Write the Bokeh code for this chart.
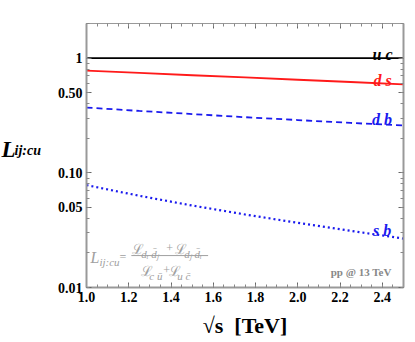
import numpy as np
from bokeh.plotting import figure
from bokeh.layouts import row
from bokeh.models import (FixedTicker, CustomJSTickFormatter, LogAxis, LinearAxis,
                          Label, Arrow)
from bokeh.embed import file_html
from bokeh.resources import INLINE

# ---- data ----
sqrt_s = [1.0, 1.25, 1.5, 1.75, 2.0, 2.25, 2.5]
L_uc = [1.0, 1.0, 1.0, 1.0, 1.0, 1.0, 1.0]
L_ds = [0.776, 0.742, 0.708, 0.677, 0.647, 0.618, 0.590]
L_db = [0.370, 0.346, 0.325, 0.305, 0.288, 0.272, 0.258]
L_sb = [0.078, 0.0630, 0.0518, 0.0433, 0.0366, 0.0312, 0.0267]

x_tick_vals = [1.0, 1.2, 1.4, 1.6, 1.8, 2.0, 2.2, 2.4]
x_tick_labels = ["1.0", "1.2", "1.4", "1.6", "1.8", "2.0", "2.2", "2.4"]
y_tick_vals = [0.01, 0.05, 0.1, 0.5, 1.0]
y_tick_labels = ["0.01", "0.05", "0.10", "0.50", "1"]

SERIF = "Liberation Serif"
GRAY = "#999999"
H = 340
LW = 46  # width of the strip that carries the y-axis title

# ---- strip on the left holding the y-axis title ----
lf = figure(width=LW, height=H, x_range=(0, LW), y_range=(H, 0),
            output_backend="svg", toolbar_location=None,
            min_border=0, min_border_left=0, min_border_right=0,
            min_border_top=0, min_border_bottom=0)
lf.axis.visible = False
lf.grid.visible = False
lf.outline_line_color = None
lf.add_layout(Label(x=1, y=162, text="L", text_font=SERIF,
                    text_font_style="bold italic", text_font_size="23px",
                    text_color="black", text_baseline="alphabetic"))
lf.add_layout(Label(x=14, y=164, text="ij:cu", text_font=SERIF,
                    text_font_style="bold italic", text_font_size="14px",
                    text_color="black", text_baseline="alphabetic"))

# ---- main plot ----
p = figure(width=413 - LW, height=H, x_range=(1.0, 2.5), y_range=(0.01, 2.0),
           y_axis_type="log", output_backend="svg", toolbar_location=None,
           min_border_left=86 - LW, min_border_right=10, min_border_top=23,
           min_border_bottom=52)
p.grid.visible = False
p.outline_line_color = None
p.background_fill_color = "white"
p.border_fill_color = "white"

x_minor = [round(v, 2) for v in np.arange(1.0, 2.5001, 0.05)]
y_minor = []
for dec in [0.01, 0.1, 1.0]:
    for k in range(1, 10):
        v = dec * k
        if v <= 2.0001:
            y_minor.append(v)

xt = FixedTicker(ticks=x_tick_vals, minor_ticks=x_minor)
yt = FixedTicker(ticks=y_tick_vals, minor_ticks=y_minor)
xf = CustomJSTickFormatter(args=dict(vals=x_tick_vals, labs=x_tick_labels), code="""
const i = vals.findIndex(v => Math.abs(v - tick) < 1e-6);
return i >= 0 ? labs[i] : "";
""")
yf = CustomJSTickFormatter(args=dict(vals=y_tick_vals, labs=y_tick_labels), code="""
const i = vals.findIndex(v => Math.abs(v - tick) < 1e-6 * v);
return i >= 0 ? labs[i] : "";
""")


def style_axis(ax, labels=True):
    ax.axis_line_color = GRAY
    ax.axis_line_width = 2
    ax.major_tick_line_color = "#666666"
    ax.minor_tick_line_color = "#888888"
    ax.major_tick_in = 5
    ax.major_tick_out = 0
    ax.minor_tick_in = 3
    ax.minor_tick_out = 0
    ax.major_label_text_font = SERIF
    ax.major_label_text_font_style = "bold"
    ax.major_label_text_font_size = "14px"
    ax.major_label_text_color = "black" if labels else None
    ax.major_label_standoff = 4 if labels else 0


p.xaxis.ticker = xt
p.xaxis.formatter = xf
p.yaxis.ticker = yt
p.yaxis.formatter = yf
style_axis(p.xaxis[0])
style_axis(p.yaxis[0])
p.xaxis.axis_label = "√s\u00a0\u00a0[TeV]"
p.xaxis.axis_label_text_font = SERIF
p.xaxis.axis_label_text_font_style = "bold"
p.xaxis.axis_label_text_font_size = "22px"
p.xaxis.axis_label_text_color = "black"
p.xaxis.axis_label_standoff = 8

top_ax = LinearAxis(ticker=xt, formatter=xf)
right_ax = LogAxis(ticker=yt, formatter=yf)
style_axis(top_ax, labels=False)
style_axis(right_ax, labels=False)
top_ax.axis_line_width = 1
top_ax.major_label_text_font_size = "1px"
right_ax.major_label_text_font_size = "1px"
p.add_layout(top_ax, "above")
p.add_layout(right_ax, "right")

# ---- curves ----
p.line(sqrt_s, L_uc, line_color="black", line_width=1.8)
p.line(sqrt_s, L_ds, line_color="#ff1a1a", line_width=1.8)
p.line(sqrt_s, L_db, line_color="#1a1aee", line_width=1.8, line_dash="6 4")
p.line(sqrt_s, L_sb, line_color="#1a1aee", line_width=2.2, line_dash="2 3")


# ---- annotations: pixel layout positions converted to data coordinates ----
def fx(px):
    return 1.0 + (px - 86.0) / 212.0


def fy(py):
    return 10 ** ((58.0 - py) / 115.0)


def lab(text, px, py, size, color="black", style="bold italic", align="left"):
    p.add_layout(Label(x=fx(px), y=fy(py), text=text, text_font=SERIF,
                       text_font_style=style, text_font_size=f"{size}px",
                       text_color=color, text_align=align,
                       text_baseline="alphabetic"))


lab("u c", 383, 54, 16, "black", align="center")
lab("d s", 383, 81, 16, "#ff1a1a", align="center")
lab("d b", 382.5, 120, 16, "#1a1aee", align="center")
lab("s b", 382.5, 231, 16, "#1a1aee", align="center")
lab("pp @ 13 TeV", 361.5, 272, 11, "#888888", style="bold", align="center")

# formula
FG = "#a0a0a0"
lab("L", 90, 258, 16, FG, style="italic")
lab("ij:cu", 99, 262, 11, FG, style="italic")
lab("=", 119, 257, 12, FG, style="normal")
lab("ℒ", 132, 250, 14, FG, style="normal")
lab("dᵢ d\u0304ⱼ", 141, 254, 11, FG, style="italic")
lab("+", 166, 248, 12, FG, style="normal")
lab("ℒ", 175, 250, 14, FG, style="normal")
lab("dⱼ d\u0304ᵢ", 184, 254, 11, FG, style="italic")
lab("ℒ", 141, 272, 14, FG, style="normal")
lab("c u\u0304", 149, 276, 11, FG, style="italic")
lab("+", 163, 270, 12, FG, style="normal")
lab("ℒ", 169, 272, 14, FG, style="normal")
lab("u c\u0304", 177, 276, 11, FG, style="italic")
p.add_layout(Arrow(x_start=fx(131), y_start=fy(256), x_end=fx(208), y_end=fy(256),
                   start=None, end=None, line_color=FG, line_width=1))

layout = row(lf, p)
open("out.html", "w").write(file_html(layout, INLINE))
